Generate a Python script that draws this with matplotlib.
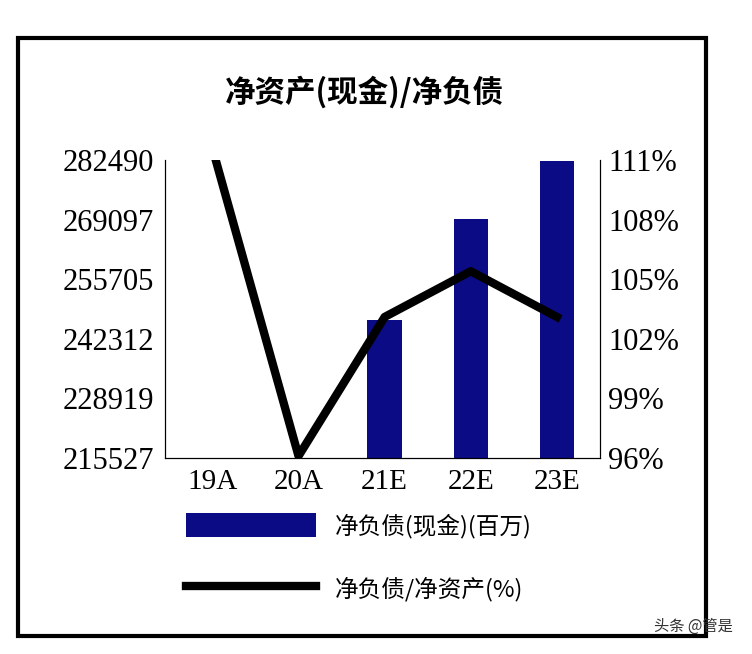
import matplotlib
matplotlib.use("Agg")
import matplotlib.pyplot as plt
import numpy as np
from matplotlib.patches import Rectangle

categories = ["19A", "20A", "21E", "22E", "23E"]
net_debt = [np.nan, np.nan, 246500, 269200, 282300]
ratio = [111.6, 96.1, 103.1, 105.4, 103.1]
left_ticks = [215527, 228919, 242312, 255705, 269097, 282490]
right_ticks = [96, 99, 102, 105, 108, 111]

cjk = ["Noto Sans CJK SC", "DejaVu Sans"]
serif = "Liberation Serif"

fig = plt.figure(figsize=(7.52, 6.54), dpi=100)
fig.patches.append(Rectangle((18/752, 1-636/654), 688/752, 598/654, transform=fig.transFigure,
                             fill=False, lw=3, ec="black"))
ax = fig.add_axes([165/752, 1-458/654, 435/752, 298/654])
x = np.arange(len(categories))
ax.bar(x, net_debt, width=0.4, color="#0b0b86", label="净负债(现金)(百万)")
ax.set_ylim(215527, 282490)
ax.set_yticks(left_ticks)
ax.set_yticklabels([str(v) for v in left_ticks], fontfamily=serif, fontsize=22)
ax.set_xticks(x)
ax.set_xticklabels(categories, fontfamily=serif, fontsize=21)
ax.set_xlim(-0.55, 4.5)
ax.tick_params(length=0, pad=8)
ax.spines["top"].set_visible(False)
ax2 = ax.twinx()
ax2.plot(x, ratio, color="black", lw=6, label="净负债/净资产(%)")
ax2.set_ylim(96, 111)
ax2.set_yticks(right_ticks)
ax2.set_yticklabels([f"{v}%" for v in right_ticks], fontfamily=serif, fontsize=22)
ax2.tick_params(length=0, pad=6)
ax2.spines["top"].set_visible(False)

fig.text(0.485, 1-92/654, "净资产(现金)/净负债", fontfamily=cjk, fontsize=22,
         fontweight="bold", ha="center", va="center")
h1, l1 = ax.get_legend_handles_labels()
h2, l2 = ax2.get_legend_handles_labels()
leg = fig.legend(h1 + h2, l1 + l2, loc="upper left", bbox_to_anchor=(165/752, 1-492/654),
                 frameon=False, handlelength=5.5, handleheight=1.2, labelspacing=1.6,
                 prop={"family": cjk, "size": 17})
fig.text(0.975, 0.035, "头条 @管是", fontfamily=cjk, fontsize=11, ha="right", color="#333333")
fig.savefig("out.png", dpi=100)
